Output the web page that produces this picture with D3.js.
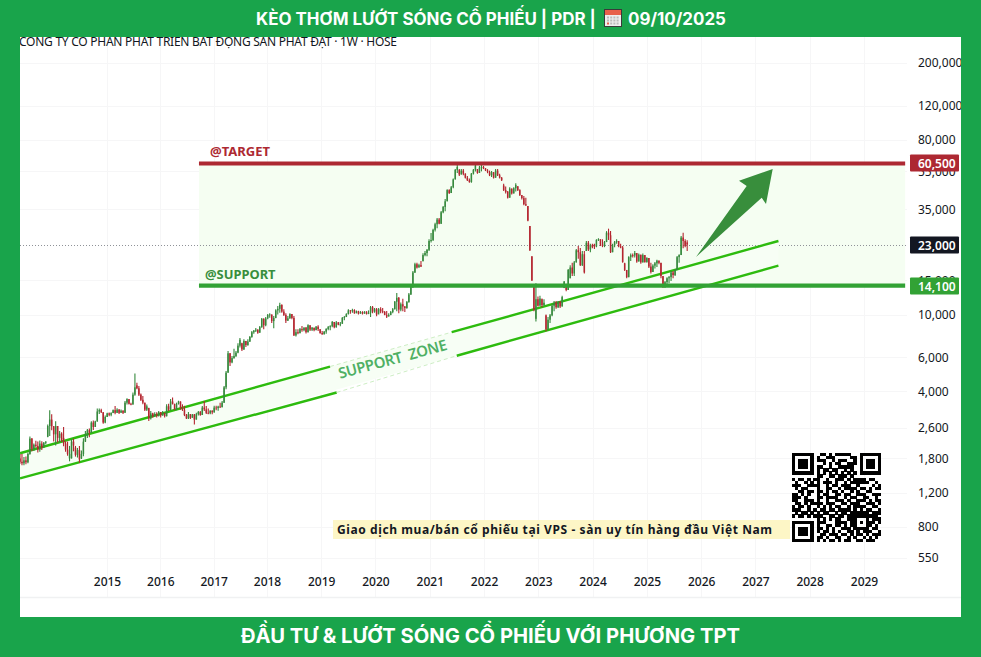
<!DOCTYPE html>
<html lang="vi"><head><meta charset="utf-8">
<script src="https://cdn.jsdelivr.net/npm/d3@7"></script>
<style>html,body{margin:0;padding:0;background:#fff}svg{display:block}</style>
</head><body><svg id="c" width="981" height="657"></svg>
<script>
// OHLC in VND, one list per calendar stretch, fortnightly bars
const bars2013=[[1800,1900,1690,1730],[1730,1900,1660,1700],[1700,1830,1660,1760],[1760,1840,1680,1720],[1720,1930,1700,1900],[1900,2340,1880,2280],[2280,2300,1960,2020],[2020,2150,1970,2120],[2120,2220,2050,2090],[2090,2200,1930,2000],[2000,2230,1950,2150],[2150,2210,1990,2050],[2050,2190,2040,2170],[2170,2210,2130,2200],[2330,2700,2320,2650],[2650,3200,2350,2860],[2860,3050,2520,2640]];
const bars2014=[[2640,2650,2200,2400],[2400,2800,2100,2650],[2650,2650,2180,2300],[2300,2500,2180,2420],[2420,2460,2190,2250],[2300,2620,2080,2150],[2150,2210,1950,2000],[2000,2200,1860,1900],[1800,2090,1740,1900],[1800,2260,1800,2200],[2200,2280,1960,2100],[2050,2090,1840,1880],[1880,2040,1820,1990],[1990,2090,1710,1780],[1800,1980,1790,1900],[1900,2290,1850,2200],[2200,2500,2190,2400],[2400,2560,2300,2520],[2520,2570,2320,2450],[2450,2800,2440,2760],[2760,2830,2530,2620],[2620,2820,2620,2800],[2800,3260,2790,3150],[3150,3260,3060,3200],[3200,3250,3090,3120],[3120,3130,2720,2760],[2760,3000,2740,2950]];
const bars2015=[[2950,3100,2950,3080],[3080,3110,2980,3030],[3030,3120,2980,3090],[3090,3230,3090,3200],[3200,3360,3050,3100],[3100,3270,3090,3220],[3220,3240,3060,3100],[3100,3230,3100,3180],[3180,3200,3060,3100],[3100,3570,3100,3500],[3500,3690,3420,3650],[3650,3650,3420,3450],[3450,3500,3390,3420],[3420,3950,3420,3850],[3850,4950,3800,4200],[4300,4430,4100,4150],[4150,4270,3790,3850],[3850,3900,3570,3620],[3620,3790,3430,3500],[3500,3500,3170,3220],[3220,3420,3170,3350],[3280,3290,2810,2900],[2900,3170,2860,3080],[3080,3100,2920,2980],[2980,3120,2960,3050],[3050,3120,2930,3000],[3000,3170,2970,3130]];
const bars2016=[[3130,3130,2930,3000],[3000,3170,3000,3100],[3100,3100,2930,2980],[2980,3430,2970,3350],[3350,3450,3170,3220],[3220,3650,3200,3550],[3550,3720,3420,3450],[3450,3450,3200,3230],[3230,3500,3200,3450],[3450,3580,3420,3550],[3550,3550,3220,3260],[3260,3430,3170,3220],[3220,3370,2980,3020],[3020,3060,2880,2900],[2900,3130,2880,3050],[3050,3060,2880,2920],[2920,3060,2930,3040],[3040,3060,2700,2860],[2860,3100,2860,3050],[3050,3170,3000,3130],[3130,3170,2990,3020],[3020,3360,3020,3300],[3300,3570,3170,3230],[3230,3360,3060,3100],[3100,3260,3050,3080],[3080,3200,3050,3180]];
const bars2017=[[3180,3200,3050,3120],[3120,3370,3100,3300],[3300,3370,3200,3280],[3280,3370,3180,3340],[3340,3500,3280,3320],[3320,3570,3300,3500],[3500,4270,3480,4200],[4200,5100,4100,5000],[5000,6480,5000,6300],[6300,6330,5420,5650],[5650,6100,5600,5950],[5950,6650,5900,6100],[6100,6480,6030,6350],[6350,7100,6300,6900],[6900,7550,6750,7400],[7100,7150,6480,6600],[6600,7450,6550,7300],[7300,7300,6800,6950],[6950,7450,6900,7250],[7250,7750,7200,7650],[7650,8220,7580,8100],[8100,8320,7950,8250],[8250,8520,8120,8350],[8350,8400,7950,8050],[8050,8720,8050,8600],[8600,9600,8550,9500],[9500,9550,8400,8800]];
const bars2018=[[8800,9700,8700,9550],[9550,10050,9450,9950],[9950,10150,9630,10000],[10000,10000,9050,9250],[9250,9820,8500,9600],[9600,10650,9550,10500],[10500,11060,10000,10700],[10700,11500,10200,11200],[11200,11300,10200,10350],[10350,10650,9820,9950],[9950,10150,9050,9300],[9300,9820,9250,9550],[9550,10150,9500,10050],[10050,10050,9450,9600],[9600,9820,7750,7800],[7800,8380,7700,8100],[8100,8380,7900,8000],[8000,8520,8000,8400],[8400,8720,8150,8300],[8300,8600,8200,8550],[8550,8620,7980,8100],[8100,8900,8080,8800],[8800,8800,8220,8350],[8350,8620,8210,8550],[8550,8550,8200,8300],[8300,8720,8280,8650]];
const bars2019=[[8650,8800,8220,8400],[8400,8400,7950,8020],[8020,8220,7850,7900],[7900,8210,7870,8150],[8150,8500,7950,8420],[8420,8720,8300,8600],[8600,8800,8300,8700],[8700,9250,8600,9150],[9150,9150,8500,8600],[8600,9250,8550,9100],[9100,9150,8800,8850],[8850,9150,8700,8950],[8950,9700,8950,9600],[9600,9820,9350,9700],[9700,10150,9700,10050],[10050,10650,10000,10500],[10500,10550,10100,10400],[10400,10700,10200,10550],[10550,10650,10100,10150],[10150,10500,10150,10400],[10400,10450,10000,10100],[10100,10420,10100,10300],[10300,10400,10000,10100],[10100,10400,10100,10350],[10350,10400,10000,10050],[10050,10500,10050,10200]];
const bars2020=[[10200,11060,9700,10900],[10900,11060,10150,10350],[10350,10800,10200,10650],[10650,10800,9800,10000],[10000,10800,10200,10650],[10650,10900,10150,10400],[10400,10800,10150,10300],[10300,10420,9900,9950],[9950,10420,9600,9750],[9750,10150,9780,9950],[9950,10420,9900,10300],[10300,10800,10150,10650],[10650,11750,10600,11650],[11650,12900,10400,12200],[12200,12300,10150,10600],[10600,11550,10400,11300],[11300,12050,10400,11000],[11000,11060,10300,10800],[10800,11750,10700,11600],[11600,12900,11500,12700],[12700,14050,12600,13900],[13900,16800,13700,16500],[16500,18500,16400,18200],[18200,18500,17300,17500],[17500,18300,17500,18000],[18000,18900,17600,17700],[18900,20750,18800,20300]];
const bars2021=[[20300,21300,20000,20800],[20800,21800,20000,21600],[21600,24500,21300,24000],[24000,26400,23600,24300],[24300,27800,24000,27400],[27400,29800,26900,29300],[29300,31600,27900,31000],[31000,31600,29300,29500],[29500,34300,29400,33800],[33800,36400,33400,36000],[36000,39600,34200,38500],[38500,44500,38500,44000],[44000,44500,42000,42500],[42500,46200,42500,45500],[45500,50500,45000,50000],[50000,56500,50000,56000],[56000,59500,54000,58000],[56000,56500,52000,53000],[53000,56500,53000,55500],[55500,56500,52600,53500],[53500,53800,50500,51000],[51000,52000,49000,49500],[49500,50500,48000,48500],[48500,54000,48000,53500],[53500,56500,53000,56000],[56000,59500,55000,59000],[56500,56500,53500,54000]];
const bars2022=[[54000,58700,54000,57500],[57500,59500,55000,58000],[58000,58700,56500,57000],[57000,57200,55200,55600],[55600,56500,53800,54500],[54500,55500,52000,52500],[52500,55200,51500,54500],[54500,54500,50500,51000],[51000,56500,51000,55500],[55500,56500,52000,52500],[52500,53500,50500,51000],[51000,51500,49000,49500],[46500,47500,43500,44000],[44000,46000,42300,43000],[43200,43500,39800,40200],[40200,45500,40200,44800],[44800,44800,41800,42300],[42300,45500,42300,45000],[45000,47800,43300,46800],[46000,46200,43500,44000],[44000,44500,41000,41500],[41500,41500,39300,40000],[40000,41000,36700,37200],[37200,40200,36400,36700],[36400,36400,30400,30600],[28700,28700,21300,21500],[20000,20000,14900,15000]];
const bars2023=[[14300,14400,10400,10600],[9500,14500,9200,12000],[12000,12400,11000,11100],[11100,12500,11100,12100],[12000,12100,10900,11200],[11200,12000,11100,11500],[9900,10000,8200,8400],[8400,9700,8300,9400],[9400,10050,9050,9900],[9900,11300,9800,11100],[11100,11750,10400,11500],[11500,11750,10700,10900],[10900,11750,10800,11600],[11600,11750,10800,11000],[11000,12500,11000,12300],[13700,14900,13700,14800],[14400,14400,13200,13400],[13400,17200,13400,17000],[15400,18000,15400,17500],[17500,18500,15800,16300],[16300,18900,15800,18600],[18600,21800,18600,21500],[21500,22600,19400,21000],[21000,22100,17800,18000],[18000,21300,17800,20500],[20500,21300,16300,16500]];
const bars2024=[[21300,24000,21300,23500],[23500,24000,21300,21700],[21700,23200,21000,22900],[22900,23200,22000,22300],[23000,23200,21800,22500],[22500,24500,22300,24300],[24300,24800,24000,24500],[24500,24500,22600,23000],[23000,24500,22300,22600],[22600,24000,22300,23700],[23700,27000,23700,26500],[26500,27800,24300,25700],[25700,27000,20800,21000],[21000,23200,21000,22800],[22800,24000,22300,23700],[23700,24500,23200,24000],[24000,24000,22300,22500],[22500,23200,22000,22200],[22200,22600,18500,18700],[18400,18500,16800,17000],[17000,17000,15400,15600],[15600,20000,15600,19800],[19800,20700,18900,20300],[20300,20700,19700,20200],[20200,21300,19700,20800],[20800,20800,18500,18800],[18800,20700,18800,20400]];
const bars2025=[[20400,20400,18300,18600],[18600,20700,18600,20300],[20300,20300,18500,18700],[18700,19800,18500,19600],[19600,19600,17400,17700],[17700,18500,16300,16600],[16600,18200,16600,17900],[17900,18700,17300,18400],[18400,19200,17600,19000],[19000,19000,18200,18500],[18500,18500,15400,15800],[15800,15800,13700,14000],[14000,14900,13700,14700],[14700,15600,14400,15400],[15400,15800,14500,15600],[15600,16800,14900,16500],[16500,16800,15400,16000],[16000,17200,15800,17000],[17000,20100,17000,19800],[19800,20500,18500,20300],[20300,25500,20300,25000],[25000,26500,22000,24000],[24000,24500,22300,22600],[23600,24200,21300,23000]];
const firstBar="2013-05-15", lastBar="2025-09-29";

const yearTicks=[2015,2016,2017,2018,2019,2020,2021,2022,2023,2024,2025,2026,2027,2028,2029];
const priceTicks=[200000,120000,80000,55000,35000,15000,10000,6000,4000,2600,1800,1200,800,550];
const target=60500, support=14100, lastPrice=23000;
const levelSpan=["2016-09-22","2029-10-05"];
const upperDates=["2013-05-15","2019-03-01","2021-05-28","2027-06-05"], upperPrices=[1915,5380,8100,24000];
const lowerDates=["2013-05-15","2019-04-15","2021-07-01","2027-06-05"], lowerPrices=[1420,3950,6120,17900];
const qrRows=["11111110011010111110001111111","10000010100111000001101000001","10111010111001011100101011101","10111010001010110011101011101","10111010110010011111001011101","10000010101101100101001000001","11111110101010101010101111111","00000000110011011101000000000","10110101100100111010111101100","01001010101110100101111110010","11100111100101101110010000101","01011000100110010111101101011","00110110110101101001010011000","11010100101100110110011100111","11101000110111100101100110010","11001110100100111010011101011","01101011110111001101110011101","10110100101010110010111100110","11100101011011011110101011001","01011010101100101101111110111","10110101110011011011111111110","00000000101010110011100010111","11111110111000111101101011101","10000010100110110101100011010","10111010110101001110111110110","10111010101101010011010111001","10111010011011101101011010111","10000010110100110010100101010","11111110101011010110011011100"];

const svg=d3.select("#c");
const S="'Noto Sans',sans-serif";
const parse=d3.utcParse("%Y-%m-%d");
const yr=y=>new Date(Date.UTC(y,0,1));
const x=d3.scaleUtc().domain([yr(2015),yr(2018),yr(2029)]).range([107,267,864]);
const y=d3.scaleLog().domain([550,200000]).range([558,63]);

const bars=[].concat(bars2013,bars2014,bars2015,bars2016,bars2017,bars2018,bars2019,bars2020,bars2021,bars2022,bars2023,bars2024,bars2025);
const t0=+parse(firstBar), t1=+parse(lastBar);
const dateOf=i=>new Date(t0+(t1-t0)*i/(bars.length-1));

svg.append("rect").attr("width",981).attr("height",657).attr("fill","#fff");

// grid
const gridG=svg.append("g").attr("stroke","#f6f6f7").attr("stroke-width",1);
gridG.selectAll(".v").data(yearTicks).join("line").attr("x1",d=>Math.round(x(yr(d)))+.5).attr("x2",d=>Math.round(x(yr(d)))+.5).attr("y1",37).attr("y2",597);
gridG.selectAll(".h").data(priceTicks).join("line").attr("y1",d=>Math.round(y(d))+.5).attr("y2",d=>Math.round(y(d))+.5).attr("x1",20).attr("x2",907);
svg.append("line").attr("x1",20).attr("x2",961).attr("y1",597.5).attr("y2",597.5).attr("stroke","#f0f1f2").attr("stroke-width",1.5);

// zone box
const [zx0,zx1]=levelSpan.map(d=>x(parse(d)));
svg.append("rect").attr("x",zx0).attr("width",zx1-zx0).attr("y",y(target)).attr("height",y(support)-y(target)).attr("fill","#f5fef2");

// last-price dotted line
svg.append("line").attr("x1",20).attr("x2",907).attr("y1",Math.round(y(lastPrice))+.5).attr("y2",Math.round(y(lastPrice))+.5).attr("stroke","#8f9298").attr("stroke-width",1).attr("stroke-dasharray","1 2");

// channel
const upper=upperDates.map((d,i)=>[x(parse(d)),y(upperPrices[i])]);
const lower=lowerDates.map((d,i)=>[x(parse(d)),y(lowerPrices[i])]);
svg.append("path").attr("d",d3.line()([upper[0],upper[3],lower[3],lower[0]])+"Z").attr("fill","#f7fef5");
const seg=(a,b,dash)=>svg.append("path").attr("d",d3.line()([a,b])).attr("fill","none")
  .attr("stroke",dash?"#cdeec4":"#2dbb0e").attr("stroke-width",dash?1:2.4).attr("stroke-dasharray",dash?"4 3":null);
[upper,lower].forEach(l=>{seg(l[0],l[1]);seg(l[1],l[2],true);seg(l[2],l[3]);});

// candles
const UP="#36893d", DOWN="#b4252f";
const cg=svg.append("g");
cg.selectAll("line").data(bars).join("line")
  .attr("x1",(d,i)=>x(dateOf(i))).attr("x2",(d,i)=>x(dateOf(i)))
  .attr("y1",d=>y(d[1])).attr("y2",d=>y(d[2])).attr("stroke",d=>d[3]>=d[0]?UP:DOWN).attr("stroke-width",1.1);
cg.selectAll("rect").data(bars).join("rect")
  .attr("x",(d,i)=>x(dateOf(i))-.75).attr("width",1.5)
  .attr("y",d=>y(Math.max(d[0],d[3]))).attr("height",d=>Math.max(.8,Math.abs(y(d[0])-y(d[3]))))
  .attr("fill",d=>d[3]>=d[0]?UP:DOWN);

// levels
svg.append("line").attr("x1",zx0).attr("x2",zx1).attr("y1",y(target)).attr("y2",y(target)).attr("stroke","#ad2932").attr("stroke-width",4);
svg.append("line").attr("x1",zx0).attr("x2",zx1).attr("y1",y(support)).attr("y2",y(support)).attr("stroke","#32a235").attr("stroke-width",4.4);
svg.append("text").attr("x",210).attr("y",155.5).text("@TARGET").attr("font-family",S).attr("font-weight",700).attr("font-size",13).attr("fill","#ad2932");
svg.append("text").attr("x",205).attr("y",279).text("@SUPPORT").attr("font-family",S).attr("font-weight",700).attr("font-size",12.9).attr("fill","#388e3c");

// zone text
svg.append("text").attr("transform","translate(394,364.2) rotate(-15)").attr("text-anchor","middle").attr("xml:space","preserve")
  .text("SUPPORT  ZONE").attr("font-family",S).attr("font-weight",600).attr("font-size",15).attr("textLength",112).attr("fill","#4fb064");

// arrow
svg.append("path").attr("d",d3.line()([[696,257],[746.7,186],[739,180.7],[772.7,169],[766,204],[761.7,197.7]])+"Z").attr("fill","#388e3c");

// promo line
svg.append("rect").attr("x",333).attr("y",520).attr("width",457).attr("height",19).attr("fill","#fdf6c6");
svg.append("text").attr("x",337).attr("y",534).text("Giao dịch mua/bán cổ phiếu tại VPS - sàn uy tín hàng đầu Việt Nam")
  .attr("font-family","'Noto Sans',sans-serif").attr("font-weight",700).attr("font-size",12).attr("textLength",435).attr("fill","#131722");

// QR
const qr=svg.append("g").attr("shape-rendering","crispEdges");
const qs=d3.scaleBand().domain(d3.range(29)).range([792,881]);
const qy=d3.scaleBand().domain(d3.range(29)).range([453,542]);
qrRows.forEach((r,ri)=>[...r].forEach((c,ci)=>{ if(c==="1") qr.append("rect").attr("x",qs(ci)).attr("y",qy(ri)).attr("width",qs.bandwidth()+.2).attr("height",qy.bandwidth()+.2).attr("fill","#000"); }));

// axes
const ax=svg.append("g").attr("transform","translate(0,582)").call(d3.axisBottom(x).tickValues(yearTicks.map(yr)).tickFormat(d3.utcFormat("%Y")).tickSize(0).tickPadding(0));
ax.select(".domain").remove();
ax.selectAll("text").attr("font-family",S).attr("font-size",12).attr("font-weight",500).attr("fill","#131722").attr("dy",4);
const ay=svg.append("g").attr("transform","translate(918,0)").call(d3.axisRight(y).tickValues(priceTicks).tickFormat(d3.format(",")).tickSize(0).tickPadding(0));
ay.select(".domain").remove();
ay.selectAll("text").attr("font-family",S).attr("font-size",12).attr("fill","#131722");

// price tags
[[target,"#ad2832"],[lastPrice,"#131722"],[support,"#32a235"]].forEach(([v,c])=>{
  const yy=Math.round(y(v));
  svg.append("rect").attr("x",910).attr("y",yy-8.5).attr("width",49).attr("height",17).attr("rx",1).attr("fill",c);
  svg.append("text").attr("x",918).attr("y",yy+4.5).text(d3.format(",")(v)).attr("font-family",S).attr("font-weight",600).attr("font-size",12).attr("fill","#fff");
});

// subtitle (drawn below the green frame, which crops its accents)
svg.append("text").attr("x",19).attr("y",46).text("CÔNG TY CỔ PHẦN PHÁT TRIỂN BẤT ĐỘNG SẢN PHÁT ĐẠT · 1W · HOSE")
  .attr("font-family",S).attr("font-size",12).attr("textLength",378).attr("fill","#131722");

// frame
const G="#19a44b";
[[0,0,981,37],[0,0,20,657],[961,0,20,657],[0,617,981,40]].forEach(r=>svg.append("rect").attr("x",r[0]).attr("y",r[1]).attr("width",r[2]).attr("height",r[3]).attr("fill",G));
const H="Inter,Roboto,sans-serif";
svg.append("text").attr("x",256).attr("y",24.5).text("KÈO THƠM LƯỚT SÓNG CỔ PHIẾU | PDR |").attr("font-family",H).attr("font-weight",700).attr("font-size",16.95).attr("fill","#fff");
svg.append("text").attr("x",628).attr("y",24.5).text("09/10/2025").attr("font-family",H).attr("font-weight",700).attr("font-size",16.95).attr("fill","#fff");
svg.append("text").attr("x",490.5).attr("y",643).attr("text-anchor","middle").text("ĐẦU TƯ & LƯỚT SÓNG CỔ PHIẾU VỚI PHƯƠNG TPT").attr("font-family",H).attr("font-weight",700).attr("font-size",20.2).attr("fill","#fff");

// calendar icon
const cal=svg.append("g").attr("transform","translate(604,9)");
cal.append("rect").attr("width",18).attr("height",18).attr("fill","#3a3a3a");
cal.append("rect").attr("x",1).attr("y",1).attr("width",16).attr("height",16).attr("fill","#eee");
cal.append("rect").attr("x",1).attr("y",1).attr("width",16).attr("height",5).attr("fill","#e8604a");
cal.append("g").selectAll("rect").data(d3.range(12)).join("rect").attr("x",d=>3+(d%4)*3.2).attr("y",d=>7.5+Math.floor(d/4)*3).attr("width",2).attr("height",2).attr("fill",d=>d===8?"#e8604a":"#bbb");
</script></body></html>
